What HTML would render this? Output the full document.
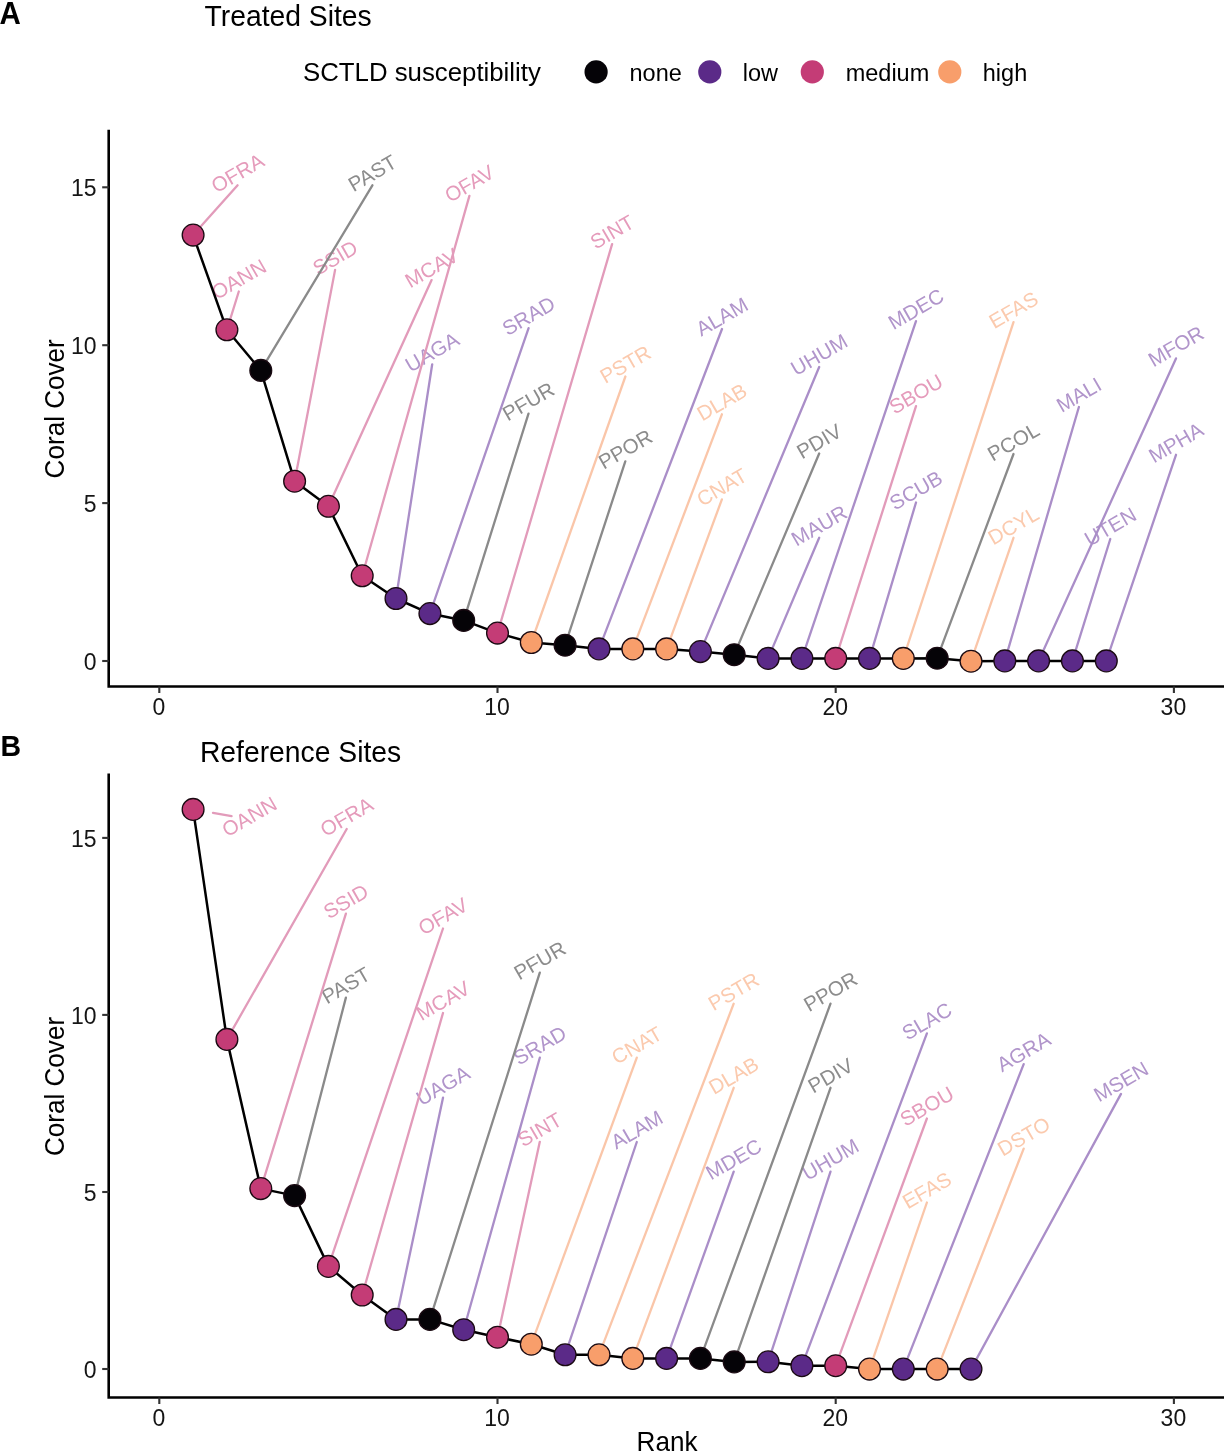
<!DOCTYPE html>
<html><head><meta charset="utf-8"><style>html,body{margin:0;padding:0;background:#fff}svg{display:block;will-change:transform}</style></head><body>
<svg width="1224" height="1455" viewBox="0 0 1224 1455">
<style>text{font-family:"Liberation Sans",sans-serif}.tk{font-size:23px;fill:#151515}.lab text{font-size:20.5px;text-anchor:middle}</style>
<rect width="1224" height="1455" fill="#fff"/>
<text transform="translate(-0.6 24.1) scale(1 1.04)" font-weight="bold" font-size="29.5" fill="#000">A</text>
<text transform="translate(204.5 26.3) scale(1 1.06)" font-size="28.3" fill="#000">Treated Sites</text>
<text transform="translate(0.4 755.8) scale(1 1.04)" font-weight="bold" font-size="28.5" fill="#000">B</text>
<text transform="translate(199.9 761.6) scale(1 1.06)" font-size="28.3" fill="#000">Reference Sites</text>
<text transform="translate(303 81.2) scale(1 1.03)" font-size="25.8" fill="#000">SCTLD susceptibility</text>
<circle cx="596.1" cy="71.9" r="11.6" fill="#050307"/>
<text transform="translate(629.5 81.0) scale(1 1.03)" font-size="23.5" fill="#000">none</text>
<circle cx="709.8" cy="71.9" r="11.6" fill="#5B2A88"/>
<text transform="translate(742.8 81.0) scale(1 1.03)" font-size="23.5" fill="#000">low</text>
<circle cx="812.3" cy="71.9" r="11.6" fill="#C43C76"/>
<text transform="translate(845.7 81.0) scale(1 1.03)" font-size="23.5" fill="#000">medium</text>
<circle cx="949.8" cy="71.9" r="11.6" fill="#F89E6B"/>
<text transform="translate(982.8 81.0) scale(1 1.03)" font-size="23.5" fill="#000">high</text>
<text transform="translate(64.2 408.8) rotate(-90) scale(1 1.04)" text-anchor="middle" font-size="26.1" fill="#000">Coral Cover</text>
<text transform="translate(64.2 1086.5) rotate(-90) scale(1 1.04)" text-anchor="middle" font-size="26.1" fill="#000">Coral Cover</text>
<text transform="translate(667 1451.2) scale(1 1.04)" text-anchor="middle" font-size="26.1" fill="#000">Rank</text>
<path d="M108.7 131.0V686.5H1224" fill="none" stroke="#000" stroke-width="2.6" stroke-linecap="square"/>
<line x1="159.3" y1="686.5" x2="159.3" y2="693.0" stroke="#333" stroke-width="2.1"/>
<text transform="translate(158.8 714.5) scale(1 1.06)" text-anchor="middle" class="tk">0</text>
<line x1="497.5" y1="686.5" x2="497.5" y2="693.0" stroke="#333" stroke-width="2.1"/>
<text transform="translate(497.0 714.5) scale(1 1.06)" text-anchor="middle" class="tk">10</text>
<line x1="835.7" y1="686.5" x2="835.7" y2="693.0" stroke="#333" stroke-width="2.1"/>
<text transform="translate(835.2 714.5) scale(1 1.06)" text-anchor="middle" class="tk">20</text>
<line x1="1173.9" y1="686.5" x2="1173.9" y2="693.0" stroke="#333" stroke-width="2.1"/>
<text transform="translate(1173.4 714.5) scale(1 1.06)" text-anchor="middle" class="tk">30</text>
<line x1="102.2" y1="661.0" x2="108.7" y2="661.0" stroke="#333" stroke-width="2.1"/>
<text transform="translate(96.5 669.7) scale(1 1.06)" text-anchor="end" class="tk">0</text>
<line x1="102.2" y1="503.1" x2="108.7" y2="503.1" stroke="#333" stroke-width="2.1"/>
<text transform="translate(96.5 511.8) scale(1 1.06)" text-anchor="end" class="tk">5</text>
<line x1="102.2" y1="345.2" x2="108.7" y2="345.2" stroke="#333" stroke-width="2.1"/>
<text transform="translate(96.5 353.9) scale(1 1.06)" text-anchor="end" class="tk">10</text>
<line x1="102.2" y1="187.3" x2="108.7" y2="187.3" stroke="#333" stroke-width="2.1"/>
<text transform="translate(96.5 196.0) scale(1 1.06)" text-anchor="end" class="tk">15</text>
<g class="lab"><text transform="translate(237.6 173.1) rotate(-30)" y="7.05" fill="#E59BBB">OFRA</text><text transform="translate(238.8 279.3) rotate(-30)" y="7.05" fill="#E59BBB">OANN</text><text transform="translate(372.4 173.1) rotate(-30)" y="7.05" fill="#8C8C8C">PAST</text><text transform="translate(335.1 257.7) rotate(-30)" y="7.05" fill="#E59BBB">SSID</text><text transform="translate(431.6 267.9) rotate(-30)" y="7.05" fill="#E59BBB">MCAV</text><text transform="translate(469.4 183.7) rotate(-30)" y="7.05" fill="#E59BBB">OFAV</text><text transform="translate(432.2 352.1) rotate(-30)" y="7.05" fill="#B195CB">UAGA</text><text transform="translate(528.6 315.9) rotate(-30)" y="7.05" fill="#B195CB">SRAD</text><text transform="translate(528.5 401.4) rotate(-30)" y="7.05" fill="#8C8C8C">PFUR</text><text transform="translate(612.1 232.0) rotate(-30)" y="7.05" fill="#E59BBB">SINT</text><text transform="translate(625.4 364.3) rotate(-30)" y="7.05" fill="#FBCAAE">PSTR</text><text transform="translate(625.3 449.2) rotate(-30)" y="7.05" fill="#8C8C8C">PPOR</text><text transform="translate(722.0 316.8) rotate(-30)" y="7.05" fill="#B195CB">ALAM</text><text transform="translate(721.9 402.1) rotate(-30)" y="7.05" fill="#FBCAAE">DLAB</text><text transform="translate(721.9 487.2) rotate(-30)" y="7.05" fill="#FBCAAE">CNAT</text><text transform="translate(819.2 354.8) rotate(-30)" y="7.05" fill="#B195CB">UHUM</text><text transform="translate(819.2 441.3) rotate(-30)" y="7.05" fill="#8C8C8C">PDIV</text><text transform="translate(819.2 525.6) rotate(-30)" y="7.05" fill="#B195CB">MAUR</text><text transform="translate(916.0 309.0) rotate(-30)" y="7.05" fill="#B195CB">MDEC</text><text transform="translate(916.0 394.0) rotate(-30)" y="7.05" fill="#E59BBB">SBOU</text><text transform="translate(916.0 490.3) rotate(-30)" y="7.05" fill="#B195CB">SCUB</text><text transform="translate(1013.5 310.0) rotate(-30)" y="7.05" fill="#FBCAAE">EFAS</text><text transform="translate(1013.5 441.8) rotate(-30)" y="7.05" fill="#8C8C8C">PCOL</text><text transform="translate(1013.5 525.6) rotate(-30)" y="7.05" fill="#FBCAAE">DCYL</text><text transform="translate(1078.9 394.8) rotate(-30)" y="7.05" fill="#B195CB">MALI</text><text transform="translate(1176.0 346.2) rotate(-30)" y="7.05" fill="#B195CB">MFOR</text><text transform="translate(1110.3 526.8) rotate(-30)" y="7.05" fill="#B195CB">UTEN</text><text transform="translate(1176.0 442.6) rotate(-30)" y="7.05" fill="#B195CB">MPHA</text></g>
<g stroke-width="2.3" stroke-linecap="round"><line x1="193.1" y1="235.1" x2="237.6" y2="185.3" stroke="#E29BBA"/><line x1="226.9" y1="329.8" x2="238.8" y2="291.5" stroke="#E29BBA"/><line x1="260.8" y1="370.4" x2="372.4" y2="185.3" stroke="#8A8A8A"/><line x1="294.6" y1="481.2" x2="335.1" y2="269.9" stroke="#E29BBA"/><line x1="328.4" y1="506.3" x2="431.6" y2="280.1" stroke="#E29BBA"/><line x1="362.2" y1="575.8" x2="469.4" y2="195.9" stroke="#E29BBA"/><line x1="396.0" y1="598.5" x2="432.2" y2="364.3" stroke="#AA8EC8"/><line x1="429.9" y1="613.6" x2="528.6" y2="328.1" stroke="#AA8EC8"/><line x1="463.7" y1="620.4" x2="528.5" y2="413.6" stroke="#8A8A8A"/><line x1="497.5" y1="633.1" x2="612.1" y2="244.2" stroke="#E29BBA"/><line x1="531.3" y1="642.5" x2="625.4" y2="376.5" stroke="#FAC6A9"/><line x1="565.1" y1="645.2" x2="625.3" y2="461.4" stroke="#8A8A8A"/><line x1="599.0" y1="648.9" x2="722.0" y2="329.0" stroke="#AA8EC8"/><line x1="632.8" y1="648.9" x2="721.9" y2="414.3" stroke="#FAC6A9"/><line x1="666.6" y1="648.9" x2="721.9" y2="499.4" stroke="#FAC6A9"/><line x1="700.4" y1="651.6" x2="819.2" y2="367.0" stroke="#AA8EC8"/><line x1="734.2" y1="654.7" x2="819.2" y2="453.5" stroke="#8A8A8A"/><line x1="768.1" y1="658.4" x2="819.2" y2="537.8" stroke="#AA8EC8"/><line x1="801.9" y1="658.4" x2="916.0" y2="321.2" stroke="#AA8EC8"/><line x1="835.7" y1="658.4" x2="916.0" y2="406.2" stroke="#E29BBA"/><line x1="869.5" y1="658.4" x2="916.0" y2="502.5" stroke="#AA8EC8"/><line x1="903.3" y1="658.4" x2="1013.5" y2="322.2" stroke="#FAC6A9"/><line x1="937.2" y1="658.2" x2="1013.5" y2="454.0" stroke="#8A8A8A"/><line x1="971.0" y1="661.2" x2="1013.5" y2="537.8" stroke="#FAC6A9"/><line x1="1004.8" y1="660.9" x2="1078.9" y2="407.0" stroke="#AA8EC8"/><line x1="1038.6" y1="660.9" x2="1176.0" y2="358.4" stroke="#AA8EC8"/><line x1="1072.4" y1="660.9" x2="1110.3" y2="539.0" stroke="#AA8EC8"/><line x1="1106.3" y1="660.9" x2="1176.0" y2="454.8" stroke="#AA8EC8"/></g>
<path d="M193.1 235.1 L226.9 329.8 L260.8 370.4 L294.6 481.2 L328.4 506.3 L362.2 575.8 L396.0 598.5 L429.9 613.6 L463.7 620.4 L497.5 633.1 L531.3 642.5 L565.1 645.2 L599.0 648.9 L632.8 648.9 L666.6 648.9 L700.4 651.6 L734.2 654.7 L768.1 658.4 L801.9 658.4 L835.7 658.4 L869.5 658.4 L903.3 658.4 L937.2 658.2 L971.0 661.2 L1004.8 660.9 L1038.6 660.9 L1072.4 660.9 L1106.3 660.9" fill="none" stroke="#000" stroke-width="2.5" stroke-linejoin="round"/>
<circle cx="193.1" cy="235.1" r="10.9" fill="#C43C76" stroke="#1a0a12" stroke-width="1.3"/>
<circle cx="226.9" cy="329.8" r="10.9" fill="#C43C76" stroke="#1a0a12" stroke-width="1.3"/>
<circle cx="260.8" cy="370.4" r="10.9" fill="#050307" stroke="#1a0a12" stroke-width="1.3"/>
<circle cx="294.6" cy="481.2" r="10.9" fill="#C43C76" stroke="#1a0a12" stroke-width="1.3"/>
<circle cx="328.4" cy="506.3" r="10.9" fill="#C43C76" stroke="#1a0a12" stroke-width="1.3"/>
<circle cx="362.2" cy="575.8" r="10.9" fill="#C43C76" stroke="#1a0a12" stroke-width="1.3"/>
<circle cx="396.0" cy="598.5" r="10.9" fill="#5B2A88" stroke="#1a0a12" stroke-width="1.3"/>
<circle cx="429.9" cy="613.6" r="10.9" fill="#5B2A88" stroke="#1a0a12" stroke-width="1.3"/>
<circle cx="463.7" cy="620.4" r="10.9" fill="#050307" stroke="#1a0a12" stroke-width="1.3"/>
<circle cx="497.5" cy="633.1" r="10.9" fill="#C43C76" stroke="#1a0a12" stroke-width="1.3"/>
<circle cx="531.3" cy="642.5" r="10.9" fill="#F89E6B" stroke="#1a0a12" stroke-width="1.3"/>
<circle cx="565.1" cy="645.2" r="10.9" fill="#050307" stroke="#1a0a12" stroke-width="1.3"/>
<circle cx="599.0" cy="648.9" r="10.9" fill="#5B2A88" stroke="#1a0a12" stroke-width="1.3"/>
<circle cx="632.8" cy="648.9" r="10.9" fill="#F89E6B" stroke="#1a0a12" stroke-width="1.3"/>
<circle cx="666.6" cy="648.9" r="10.9" fill="#F89E6B" stroke="#1a0a12" stroke-width="1.3"/>
<circle cx="700.4" cy="651.6" r="10.9" fill="#5B2A88" stroke="#1a0a12" stroke-width="1.3"/>
<circle cx="734.2" cy="654.7" r="10.9" fill="#050307" stroke="#1a0a12" stroke-width="1.3"/>
<circle cx="768.1" cy="658.4" r="10.9" fill="#5B2A88" stroke="#1a0a12" stroke-width="1.3"/>
<circle cx="801.9" cy="658.4" r="10.9" fill="#5B2A88" stroke="#1a0a12" stroke-width="1.3"/>
<circle cx="835.7" cy="658.4" r="10.9" fill="#C43C76" stroke="#1a0a12" stroke-width="1.3"/>
<circle cx="869.5" cy="658.4" r="10.9" fill="#5B2A88" stroke="#1a0a12" stroke-width="1.3"/>
<circle cx="903.3" cy="658.4" r="10.9" fill="#F89E6B" stroke="#1a0a12" stroke-width="1.3"/>
<circle cx="937.2" cy="658.2" r="10.9" fill="#050307" stroke="#1a0a12" stroke-width="1.3"/>
<circle cx="971.0" cy="661.2" r="10.9" fill="#F89E6B" stroke="#1a0a12" stroke-width="1.3"/>
<circle cx="1004.8" cy="660.9" r="10.9" fill="#5B2A88" stroke="#1a0a12" stroke-width="1.3"/>
<circle cx="1038.6" cy="660.9" r="10.9" fill="#5B2A88" stroke="#1a0a12" stroke-width="1.3"/>
<circle cx="1072.4" cy="660.9" r="10.9" fill="#5B2A88" stroke="#1a0a12" stroke-width="1.3"/>
<circle cx="1106.3" cy="660.9" r="10.9" fill="#5B2A88" stroke="#1a0a12" stroke-width="1.3"/>
<path d="M108.7 774.7V1397.5H1224" fill="none" stroke="#000" stroke-width="2.6" stroke-linecap="square"/>
<line x1="159.3" y1="1397.5" x2="159.3" y2="1404.0" stroke="#333" stroke-width="2.1"/>
<text transform="translate(158.8 1425.5) scale(1 1.06)" text-anchor="middle" class="tk">0</text>
<line x1="497.5" y1="1397.5" x2="497.5" y2="1404.0" stroke="#333" stroke-width="2.1"/>
<text transform="translate(497.0 1425.5) scale(1 1.06)" text-anchor="middle" class="tk">10</text>
<line x1="835.7" y1="1397.5" x2="835.7" y2="1404.0" stroke="#333" stroke-width="2.1"/>
<text transform="translate(835.2 1425.5) scale(1 1.06)" text-anchor="middle" class="tk">20</text>
<line x1="1173.9" y1="1397.5" x2="1173.9" y2="1404.0" stroke="#333" stroke-width="2.1"/>
<text transform="translate(1173.4 1425.5) scale(1 1.06)" text-anchor="middle" class="tk">30</text>
<line x1="102.2" y1="1369.0" x2="108.7" y2="1369.0" stroke="#333" stroke-width="2.1"/>
<text transform="translate(96.5 1377.7) scale(1 1.06)" text-anchor="end" class="tk">0</text>
<line x1="102.2" y1="1192.0" x2="108.7" y2="1192.0" stroke="#333" stroke-width="2.1"/>
<text transform="translate(96.5 1200.7) scale(1 1.06)" text-anchor="end" class="tk">5</text>
<line x1="102.2" y1="1014.9" x2="108.7" y2="1014.9" stroke="#333" stroke-width="2.1"/>
<text transform="translate(96.5 1023.6) scale(1 1.06)" text-anchor="end" class="tk">10</text>
<line x1="102.2" y1="837.9" x2="108.7" y2="837.9" stroke="#333" stroke-width="2.1"/>
<text transform="translate(96.5 846.6) scale(1 1.06)" text-anchor="end" class="tk">15</text>
<g class="lab"><text transform="translate(249.4 816.7) rotate(-30)" y="7.05" fill="#E59BBB">OANN</text><text transform="translate(346.7 816.8) rotate(-30)" y="7.05" fill="#E59BBB">OFRA</text><text transform="translate(345.9 901.4) rotate(-30)" y="7.05" fill="#E59BBB">SSID</text><text transform="translate(345.9 985.4) rotate(-30)" y="7.05" fill="#8C8C8C">PAST</text><text transform="translate(443.0 916.3) rotate(-30)" y="7.05" fill="#E59BBB">OFAV</text><text transform="translate(443.0 1000.8) rotate(-30)" y="7.05" fill="#E59BBB">MCAV</text><text transform="translate(443.0 1085.5) rotate(-30)" y="7.05" fill="#B195CB">UAGA</text><text transform="translate(539.8 960.5) rotate(-30)" y="7.05" fill="#8C8C8C">PFUR</text><text transform="translate(539.8 1045.5) rotate(-30)" y="7.05" fill="#B195CB">SRAD</text><text transform="translate(539.8 1129.6) rotate(-30)" y="7.05" fill="#E59BBB">SINT</text><text transform="translate(636.8 1045.4) rotate(-30)" y="7.05" fill="#FBCAAE">CNAT</text><text transform="translate(636.8 1129.8) rotate(-30)" y="7.05" fill="#B195CB">ALAM</text><text transform="translate(733.7 991.5) rotate(-30)" y="7.05" fill="#FBCAAE">PSTR</text><text transform="translate(733.7 1075.6) rotate(-30)" y="7.05" fill="#FBCAAE">DLAB</text><text transform="translate(733.7 1159.4) rotate(-30)" y="7.05" fill="#B195CB">MDEC</text><text transform="translate(830.5 991.5) rotate(-30)" y="7.05" fill="#8C8C8C">PPOR</text><text transform="translate(830.5 1075.6) rotate(-30)" y="7.05" fill="#8C8C8C">PDIV</text><text transform="translate(830.5 1159.4) rotate(-30)" y="7.05" fill="#B195CB">UHUM</text><text transform="translate(926.9 1021.2) rotate(-30)" y="7.05" fill="#B195CB">SLAC</text><text transform="translate(926.9 1106.3) rotate(-30)" y="7.05" fill="#E59BBB">SBOU</text><text transform="translate(926.9 1190.3) rotate(-30)" y="7.05" fill="#FBCAAE">EFAS</text><text transform="translate(1023.7 1051.9) rotate(-30)" y="7.05" fill="#B195CB">AGRA</text><text transform="translate(1023.7 1136.4) rotate(-30)" y="7.05" fill="#FBCAAE">DSTO</text><text transform="translate(1121.0 1081.7) rotate(-30)" y="7.05" fill="#B195CB">MSEN</text></g>
<g stroke-width="2.3" stroke-linecap="round"><line x1="213.0" y1="812.8" x2="231.6" y2="816.1" stroke="#E29BBA"/><line x1="226.9" y1="1039.4" x2="346.7" y2="829.0" stroke="#E29BBA"/><line x1="260.8" y1="1188.6" x2="345.9" y2="913.6" stroke="#E29BBA"/><line x1="294.6" y1="1195.6" x2="345.9" y2="997.6" stroke="#8A8A8A"/><line x1="328.4" y1="1266.4" x2="443.0" y2="928.5" stroke="#E29BBA"/><line x1="362.2" y1="1295.0" x2="443.0" y2="1013.0" stroke="#E29BBA"/><line x1="396.0" y1="1319.4" x2="443.0" y2="1097.7" stroke="#AA8EC8"/><line x1="429.9" y1="1319.4" x2="539.8" y2="972.7" stroke="#8A8A8A"/><line x1="463.7" y1="1329.7" x2="539.8" y2="1057.7" stroke="#AA8EC8"/><line x1="497.5" y1="1337.2" x2="539.8" y2="1141.8" stroke="#E29BBA"/><line x1="531.3" y1="1344.2" x2="636.8" y2="1057.6" stroke="#FAC6A9"/><line x1="565.1" y1="1354.8" x2="636.8" y2="1142.0" stroke="#AA8EC8"/><line x1="599.0" y1="1354.8" x2="733.7" y2="1003.7" stroke="#FAC6A9"/><line x1="632.8" y1="1358.4" x2="733.7" y2="1087.8" stroke="#FAC6A9"/><line x1="666.6" y1="1358.4" x2="733.7" y2="1171.6" stroke="#AA8EC8"/><line x1="700.4" y1="1358.4" x2="830.5" y2="1003.7" stroke="#8A8A8A"/><line x1="734.2" y1="1361.9" x2="830.5" y2="1087.8" stroke="#8A8A8A"/><line x1="768.1" y1="1361.8" x2="830.5" y2="1171.6" stroke="#AA8EC8"/><line x1="801.9" y1="1365.7" x2="926.9" y2="1033.4" stroke="#AA8EC8"/><line x1="835.7" y1="1365.7" x2="926.9" y2="1118.5" stroke="#E29BBA"/><line x1="869.5" y1="1369.1" x2="926.9" y2="1202.5" stroke="#FAC6A9"/><line x1="903.3" y1="1369.1" x2="1023.7" y2="1064.1" stroke="#AA8EC8"/><line x1="937.2" y1="1369.1" x2="1023.7" y2="1148.6" stroke="#FAC6A9"/><line x1="971.0" y1="1369.1" x2="1121.0" y2="1093.9" stroke="#AA8EC8"/></g>
<path d="M193.1 809.4 L226.9 1039.4 L260.8 1188.6 L294.6 1195.6 L328.4 1266.4 L362.2 1295.0 L396.0 1319.4 L429.9 1319.4 L463.7 1329.7 L497.5 1337.2 L531.3 1344.2 L565.1 1354.8 L599.0 1354.8 L632.8 1358.4 L666.6 1358.4 L700.4 1358.4 L734.2 1361.9 L768.1 1361.8 L801.9 1365.7 L835.7 1365.7 L869.5 1369.1 L903.3 1369.1 L937.2 1369.1 L971.0 1369.1" fill="none" stroke="#000" stroke-width="2.5" stroke-linejoin="round"/>
<circle cx="193.1" cy="809.4" r="10.9" fill="#C43C76" stroke="#1a0a12" stroke-width="1.3"/>
<circle cx="226.9" cy="1039.4" r="10.9" fill="#C43C76" stroke="#1a0a12" stroke-width="1.3"/>
<circle cx="260.8" cy="1188.6" r="10.9" fill="#C43C76" stroke="#1a0a12" stroke-width="1.3"/>
<circle cx="294.6" cy="1195.6" r="10.9" fill="#050307" stroke="#1a0a12" stroke-width="1.3"/>
<circle cx="328.4" cy="1266.4" r="10.9" fill="#C43C76" stroke="#1a0a12" stroke-width="1.3"/>
<circle cx="362.2" cy="1295.0" r="10.9" fill="#C43C76" stroke="#1a0a12" stroke-width="1.3"/>
<circle cx="396.0" cy="1319.4" r="10.9" fill="#5B2A88" stroke="#1a0a12" stroke-width="1.3"/>
<circle cx="429.9" cy="1319.4" r="10.9" fill="#050307" stroke="#1a0a12" stroke-width="1.3"/>
<circle cx="463.7" cy="1329.7" r="10.9" fill="#5B2A88" stroke="#1a0a12" stroke-width="1.3"/>
<circle cx="497.5" cy="1337.2" r="10.9" fill="#C43C76" stroke="#1a0a12" stroke-width="1.3"/>
<circle cx="531.3" cy="1344.2" r="10.9" fill="#F89E6B" stroke="#1a0a12" stroke-width="1.3"/>
<circle cx="565.1" cy="1354.8" r="10.9" fill="#5B2A88" stroke="#1a0a12" stroke-width="1.3"/>
<circle cx="599.0" cy="1354.8" r="10.9" fill="#F89E6B" stroke="#1a0a12" stroke-width="1.3"/>
<circle cx="632.8" cy="1358.4" r="10.9" fill="#F89E6B" stroke="#1a0a12" stroke-width="1.3"/>
<circle cx="666.6" cy="1358.4" r="10.9" fill="#5B2A88" stroke="#1a0a12" stroke-width="1.3"/>
<circle cx="700.4" cy="1358.4" r="10.9" fill="#050307" stroke="#1a0a12" stroke-width="1.3"/>
<circle cx="734.2" cy="1361.9" r="10.9" fill="#050307" stroke="#1a0a12" stroke-width="1.3"/>
<circle cx="768.1" cy="1361.8" r="10.9" fill="#5B2A88" stroke="#1a0a12" stroke-width="1.3"/>
<circle cx="801.9" cy="1365.7" r="10.9" fill="#5B2A88" stroke="#1a0a12" stroke-width="1.3"/>
<circle cx="835.7" cy="1365.7" r="10.9" fill="#C43C76" stroke="#1a0a12" stroke-width="1.3"/>
<circle cx="869.5" cy="1369.1" r="10.9" fill="#F89E6B" stroke="#1a0a12" stroke-width="1.3"/>
<circle cx="903.3" cy="1369.1" r="10.9" fill="#5B2A88" stroke="#1a0a12" stroke-width="1.3"/>
<circle cx="937.2" cy="1369.1" r="10.9" fill="#F89E6B" stroke="#1a0a12" stroke-width="1.3"/>
<circle cx="971.0" cy="1369.1" r="10.9" fill="#5B2A88" stroke="#1a0a12" stroke-width="1.3"/>
</svg>
</body></html>
